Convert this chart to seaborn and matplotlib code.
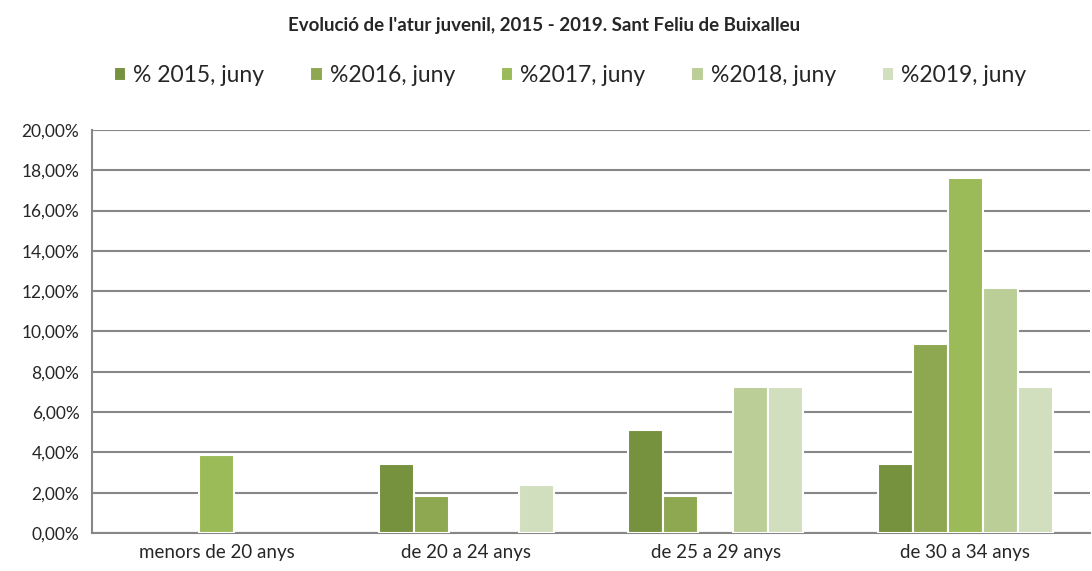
import matplotlib
matplotlib.use("Agg")
import matplotlib.pyplot as plt
from matplotlib.ticker import FuncFormatter, FixedLocator
import numpy as np
import pandas as pd
import seaborn as sns

# data (percent)
groups = ["menors de 20 anys", "de 20 a 24 anys", "de 25 a 29 anys", "de 30 a 34 anys"]
series = ["% 2015, juny", "%2016, juny", "%2017, juny", "%2018, juny", "%2019, juny"]
v2015 = [np.nan, 3.42, 5.13, 3.42]
v2016 = [np.nan, 1.83, 1.83, 9.40]
v2017 = [3.85, np.nan, np.nan, 17.59]
v2018 = [np.nan, np.nan, 7.26, 12.14]
v2019 = [np.nan, 2.38, 7.26, 7.26]
colors = ["#77923F", "#8DA850", "#9BBB59", "#BBCE98", "#D2DFBE"]

rows = []
for name, vals in zip(series, [v2015, v2016, v2017, v2018, v2019]):
    for g, v in zip(groups, vals):
        rows.append({"grup": g, "serie": name, "valor": v})
df = pd.DataFrame(rows).dropna()

sns.set_style("white")
plt.rcParams["font.family"] = ["Lato", "DejaVu Sans"]

fig = plt.figure(figsize=(10.92, 5.71), dpi=100)
ax = fig.add_axes([0.0842, 0.0665, 0.914, 0.706])

sns.barplot(data=df, x="grup", y="valor", hue="serie", order=groups,
            hue_order=series, palette=colors, saturation=1, width=0.7, gap=0,
            edgecolor="white", linewidth=1.5, ax=ax, legend=True, zorder=3)

ax.set_ylim(0, 20)
ax.set_xlim(-0.5, 3.5)
ax.yaxis.set_major_locator(FixedLocator(np.arange(0, 21, 2)))
ax.yaxis.set_major_formatter(FuncFormatter(lambda v, p: f"{v:.2f}".replace(".", ",") + "%"))
ax.grid(axis="y", color="#878787", linewidth=1.5, zorder=0)
ax.set_axisbelow(True)
ax.set_xlabel("")
ax.set_ylabel("")

for s in ["top", "right"]:
    ax.spines[s].set_visible(False)
for s in ["left", "bottom"]:
    ax.spines[s].set_color("#878787")
    ax.spines[s].set_linewidth(1.5)

ax.set_xticks(np.arange(-0.5, 3.6, 1.0), minor=True)
ax.tick_params(axis="x", which="major", length=0, labelsize=13.5, pad=8)
ax.tick_params(axis="x", which="minor", length=5, color="#878787", width=1.5)
ax.tick_params(axis="y", length=5, color="#878787", width=1.5, labelsize=12.5, pad=4)

handles, labels = ax.get_legend_handles_labels()
ax.get_legend().remove()
fig.legend(handles, labels, loc="center", bbox_to_anchor=(0.522, 0.868), ncol=5,
           frameon=False, fontsize=16.5, handlelength=0.55, handleheight=0.55,
           handletextpad=0.3, columnspacing=2.0)

fig.suptitle("Evolució de l'atur juvenil, 2015 - 2019. Sant Feliu de Buixalleu",
             x=0.498, y=0.97, fontsize=13.5, fontweight="bold")

fig.savefig("out.png", dpi=100)
